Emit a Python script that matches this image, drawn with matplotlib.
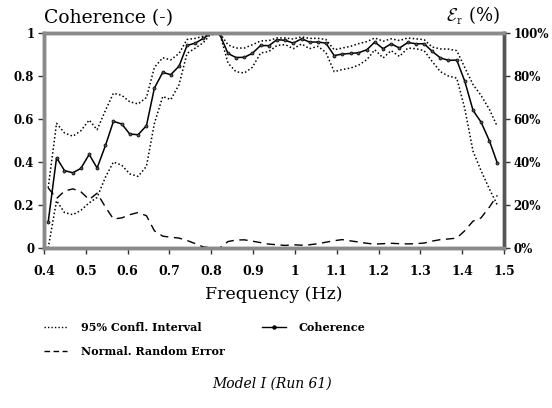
import matplotlib
matplotlib.use("Agg")
import matplotlib.pyplot as plt
from matplotlib.lines import Line2D

freq = [0.410, 0.430, 0.449, 0.469, 0.488, 0.508, 0.527, 0.547, 0.566, 0.586,
        0.605, 0.625, 0.645, 0.664, 0.684, 0.703, 0.723, 0.742, 0.762, 0.781,
        0.801, 0.820, 0.840, 0.859, 0.879, 0.898, 0.918, 0.938, 0.957, 0.977,
        0.996, 1.016, 1.035, 1.055, 1.074, 1.094, 1.113, 1.133, 1.152, 1.172,
        1.191, 1.211, 1.230, 1.250, 1.270, 1.289, 1.309, 1.328, 1.348, 1.367,
        1.387, 1.406, 1.426, 1.445, 1.465, 1.484]

coherence = [0.12, 0.42, 0.36, 0.35, 0.37, 0.435, 0.372, 0.477, 0.589, 0.577,
             0.53, 0.527, 0.569, 0.744, 0.817, 0.806, 0.846, 0.942, 0.953, 0.975,
             1.0, 0.995, 0.905, 0.886, 0.887, 0.905, 0.942, 0.941, 0.969, 0.966,
             0.953, 0.973, 0.958, 0.958, 0.953, 0.895, 0.902, 0.905, 0.908, 0.922,
             0.958, 0.927, 0.950, 0.930, 0.956, 0.950, 0.950, 0.915, 0.884, 0.873,
             0.874, 0.777, 0.64, 0.586, 0.499, 0.395]

upper95 = [0.28, 0.58, 0.535, 0.52, 0.545, 0.595, 0.55, 0.64, 0.72, 0.71,
           0.68, 0.67, 0.70, 0.84, 0.885, 0.875, 0.905, 0.97, 0.975, 0.985,
           1.0, 1.0, 0.945, 0.93, 0.93, 0.945, 0.963, 0.965, 0.977, 0.977,
           0.972, 0.982, 0.975, 0.975, 0.97, 0.922, 0.93, 0.938, 0.95, 0.96,
           0.977, 0.962, 0.973, 0.965, 0.977, 0.973, 0.969, 0.935, 0.926, 0.925,
           0.918, 0.84, 0.76, 0.71, 0.645, 0.565]

lower95 = [0.0, 0.22, 0.165, 0.155, 0.175, 0.21, 0.235, 0.33, 0.40, 0.385,
           0.345, 0.333, 0.38, 0.58, 0.705, 0.69, 0.76, 0.905, 0.93, 0.955,
           1.0, 1.0, 0.86, 0.82, 0.814, 0.84, 0.907, 0.914, 0.942, 0.946,
           0.927, 0.949, 0.927, 0.938, 0.91, 0.82, 0.83, 0.837, 0.85, 0.876,
           0.922, 0.884, 0.918, 0.891, 0.93, 0.927, 0.918, 0.868, 0.82, 0.80,
           0.79, 0.65, 0.45, 0.36, 0.275, 0.20]

random_error = [28, 23, 26.5, 27.5, 26.2, 22.5, 25.5, 19, 13.5, 14,
                15.5, 16.5, 15, 8, 5.5, 5, 4.6, 3.5, 2, 0.5,
                0, 0, 3, 3.7, 3.8, 3.2, 2.5, 1.8, 1.5, 1.2,
                1.5, 1.3, 1.5, 2, 2.7, 3.4, 3.9, 3.3, 2.8, 2.2,
                1.8, 2, 2.2, 2, 1.9, 2, 2.3, 3.2, 3.9, 4.2,
                4.6, 8, 12.5, 14, 19, 24.5]

xticks = [0.4, 0.5, 0.6, 0.7, 0.8, 0.9, 1.0, 1.1, 1.2, 1.3, 1.4, 1.5]
xticklabels = ["0.4", "0.5", "0.6", "0.7", "0.8", "0.9", "1", "1.1", "1.2", "1.3", "1.4", "1.5"]
yticks = [0, 0.2, 0.4, 0.6, 0.8, 1.0]
yticklabels = ["0", "0.2", "0.4", "0.6", "0.8", "1"]
rticks = [0, 20, 40, 60, 80, 100]
rticklabels = ["0%", "20%", "40%", "60%", "80%", "100%"]

plt.rcParams['font.family'] = ['DejaVu Serif']
plt.rcParams['mathtext.fontset'] = 'cm'

fig = plt.figure(figsize=(5.52, 4.08), dpi=100)
ax = fig.add_axes([44 / 552, 1 - 248 / 408, 460 / 552, 215 / 408])
ax2 = ax.twinx()

ax.plot(freq, upper95, color='black', linestyle=(0, (1, 1.5)), linewidth=1.1)
ax.plot(freq, lower95, color='black', linestyle=(0, (1, 1.5)), linewidth=1.1)
ax.plot(freq, coherence, color='black', linewidth=1.1, marker='o', markersize=2.2,
        markerfacecolor='#555555', markeredgecolor='black', markeredgewidth=0.5)
ax2.plot(freq, random_error, color='black', linestyle=(0, (6, 4)), linewidth=1.0)

ax.set_xlim(0.4, 1.5)
ax.set_ylim(0, 1)
ax2.set_ylim(0, 100)

ax.set_xticks(xticks)
ax.set_xticklabels(xticklabels, fontsize=9, fontweight='bold')
ax.set_yticks(yticks)
ax.set_yticklabels(yticklabels, fontsize=8.5, fontweight='bold')
ax2.set_yticks(rticks)
ax2.set_yticklabels(rticklabels, fontsize=8.5, fontweight='bold')

for a in (ax, ax2):
    for s in a.spines.values():
        s.set_color('#8a8a8a')
        s.set_linewidth(2.5)
    a.tick_params(direction='out', length=4, width=1.0, color='#333333', pad=3)
ax2.spines['right'].set_color('#555555')
ax.tick_params(axis='x', pad=8)

ax.set_xlabel("Frequency (Hz)", fontsize=12.5, labelpad=6)

fig.text(44 / 552, 1 - 18 / 408, "Coherence (-)", fontsize=13.5,
         ha='left', va='center')
fig.text(500 / 552, 1 - 16 / 408, r"$\mathcal{E}_{\mathrm{r}}$ (%)", fontsize=13,
         ha='right', va='center')

handles = [Line2D([], [], color='black', linestyle=(0, (1, 1.5)), linewidth=1.0),
           Line2D([], [], color='black', linestyle=(0, (4, 2.5)), linewidth=1.0),
           Line2D([], [], color='black', linewidth=1.0, marker='o', markersize=2.2)]
labels = ["95% Confl. Interval", "Normal. Random Error", "Coherence"]
fig.legend(handles, labels, loc='upper left', bbox_to_anchor=(34 / 552, 1 - 312 / 408),
           ncol=2, frameon=False, prop={'weight': 'bold', 'size': 8},
           handlelength=2.1, handletextpad=1.2, columnspacing=3.4, labelspacing=1.2)

fig.text(272 / 552, 1 - 384 / 408, "Model I (Run 61)", fontsize=10, fontstyle='italic',
         ha='center', va='center')

fig.savefig("out.png", dpi=100)
